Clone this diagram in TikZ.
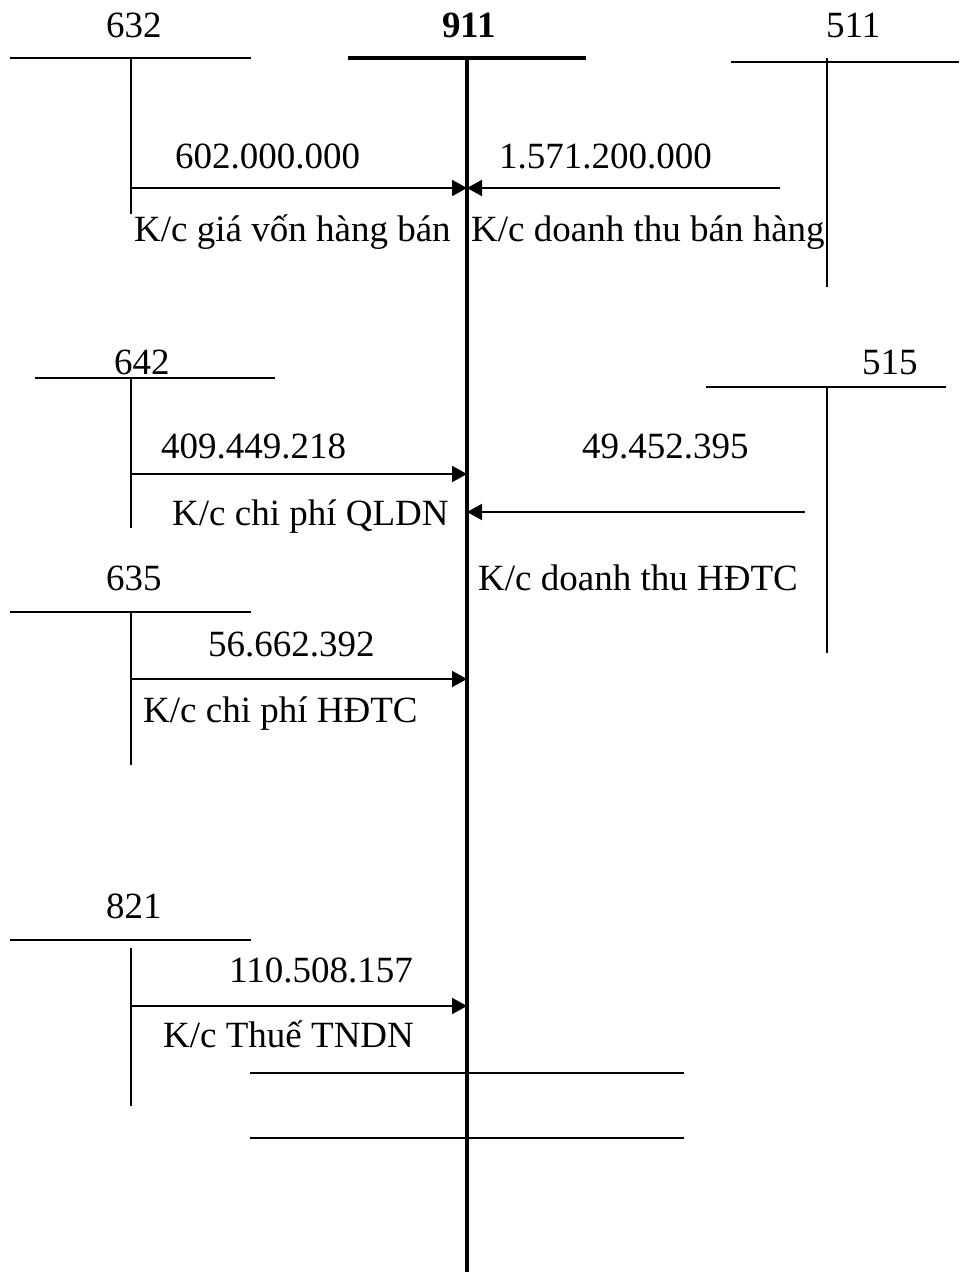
\documentclass[tikz,border=0pt]{standalone}
\usepackage{fontspec}
\setmainfont{Liberation Serif}
\usetikzlibrary{arrows.meta}
\tikzset{
  acct/.style = {line width=2pt},
  main/.style = {line width=4pt},
  post/.style = {-{Triangle[length=15pt,width=16pt]}, line width=2pt},
  lbl/.style  = {anchor=base west, inner sep=0pt, font=\fontsize{37}{41}\selectfont},
}

\begin{document}
\begin{tikzpicture}[x=1pt, y=-1pt]
\useasboundingbox (0,0) rectangle (959,1274);

% main account 911
\node[lbl, font=\fontsize{37}{41}\selectfont\bfseries] (n911) at (442,37) {911};
\coordinate (top911) at (467,58);
\coordinate (bot911) at (467,1272);
\draw[main] (348,58) -- (586,58);
\draw[main] (top911) -- (bot911);

% debit side accounts
\node[lbl] (n632) at (106,37) {632};
\draw[acct] (10,58) -- (251,58);
\draw[acct] (131,58) -- (131,214);
\coordinate (s632) at (131,188);
\draw[post] (s632) -- (s632 -| top911);
\node[lbl] (v632) at (175,168) {602.000.000};
\node[lbl] (t632) at (134,241) {K/c giá vốn hàng bán};

\node[lbl] (n642) at (114,374) {642};
\draw[acct] (35,378) -- (275,378);
\draw[acct] (131,378) -- (131,528);
\coordinate (s642) at (131,474);
\draw[post] (s642) -- (s642 -| top911);
\node[lbl] (v642) at (161,458) {409.449.218};
\node[lbl] (t642) at (172,525) {K/c chi phí QLDN};

\node[lbl] (n635) at (106,590) {635};
\draw[acct] (10,612) -- (251,612);
\draw[acct] (131,612) -- (131,765);
\coordinate (s635) at (131,679);
\draw[post] (s635) -- (s635 -| top911);
\node[lbl] (v635) at (208,656) {56.662.392};
\node[lbl] (t635) at (143,722) {K/c chi phí HĐTC};

\node[lbl] (n821) at (106,918) {821};
\draw[acct] (10,940) -- (251,940);
\draw[acct] (131,948) -- (131,1106);
\coordinate (s821) at (131,1006);
\draw[post] (s821) -- (s821 -| top911);
\node[lbl] (v821) at (229,982) {110.508.157};
\node[lbl] (t821) at (163,1047) {K/c Thuế TNDN};

% credit side accounts
\node[lbl] (n511) at (826,37) {511};
\draw[acct] (731,62) -- (959,62);
\draw[acct] (827,58) -- (827,287);
\coordinate (s511) at (780,188);
\draw[post] (s511) -- (s511 -| top911);
\node[lbl] (v511) at (499,168) {1.571.200.000};
\node[lbl] (t511) at (471,241) {K/c doanh thu bán hàng};

\node[lbl] (n515) at (862,374) {515};
\draw[acct] (706,387) -- (946,387);
\draw[acct] (827,387) -- (827,653);
\coordinate (s515) at (805,512);
\draw[post] (s515) -- (s515 -| top911);
\node[lbl] (v515) at (582,458) {49.452.395};
\node[lbl] (t515) at (478,590) {K/c doanh thu HĐTC};

% closing lines
\draw[acct] (250,1073) -- (684,1073);
\draw[acct] (250,1138) -- (684,1138);
\end{tikzpicture}
\end{document}
